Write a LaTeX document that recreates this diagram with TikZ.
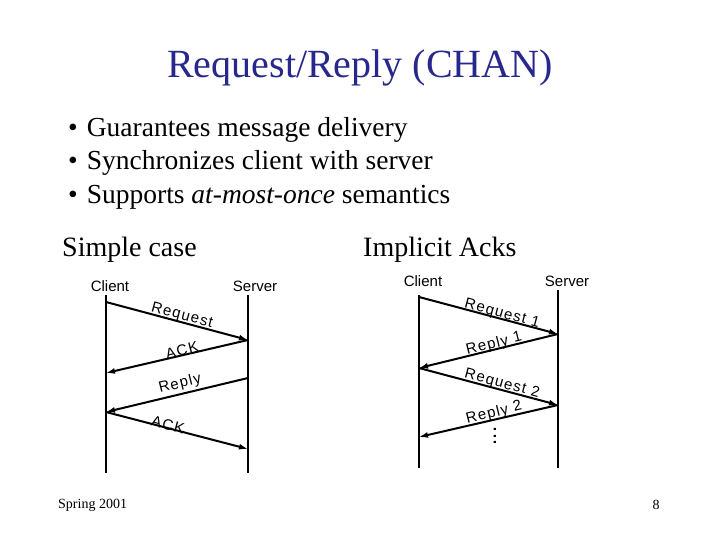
\documentclass[tikz,border=0pt]{standalone}
\usepackage{fontspec}
\setmainfont{Liberation Serif}
\newfontfamily\arial[LetterSpace=8]{Liberation Sans}
\newfontfamily\arialn{Liberation Sans}
\usetikzlibrary{arrows.meta}
\begin{document}
\begin{tikzpicture}[x=1pt,y=-1pt,
  life/.style={line width=2pt},
  msg/.style={line width=2pt,-{Latex[length=9pt,width=6pt]}},
  lbl/.style={font=\fontsize{15}{15}\arial,inner sep=1pt},
  hdr/.style={font=\fontsize{15}{15}\arialn,inner sep=0pt},
  bul/.style={font=\fontsize{27.5}{27.5}\selectfont,anchor=west,inner sep=0pt}]
\useasboundingbox (0,0) rectangle (720,540);
\node (title) at (360,68) {\fontsize{40}{40}\selectfont\color[RGB]{40,40,140}Request/Reply (CHAN)};
\node[bul] (b1) at (68,130) {•\hspace{9pt}Guarantees message delivery};
\node[bul] (b2) at (68,163) {•\hspace{9pt}Synchronizes client with server};
\node[bul] (b3) at (68,197) {•\hspace{9pt}Supports \textit{at-most-once} semantics};
\node[bul,font=\fontsize{28}{28}\selectfont] (s1) at (62,250) {Simple case};
\node[bul,font=\fontsize{28}{28}\selectfont] (s2) at (363,250) {Implicit Acks};
\node[hdr] (c1) at (110,286) {Client};
\node[hdr] (sv1) at (255,286) {Server};
\node[hdr] (c2) at (423,281) {Client};
\node[hdr] (sv2) at (567,281) {Server};
% left
\coordinate (lct) at (106,295); \coordinate (lcb) at (106,473);
\coordinate (lst) at (248,295); \coordinate (lsb) at (248,473);
\draw[life] (lct) -- (lcb); \draw[life] (lst) -- (lsb);
\coordinate (a1) at (106,302); \coordinate (a2) at (248,340);
\coordinate (a3) at (106,373); \coordinate (a4) at (248,378);
\coordinate (a5) at (106,412); \coordinate (a6) at (248,449);
\draw[msg] (a1) -- (a2); \draw[msg] (a2) -- (a3);
\draw[msg] (a4) -- (a5); \draw[msg] (a5) -- (a6);
\node[lbl,rotate=-15] (l1) at (182,316) {Request};
\node[lbl,rotate=14] (l2) at (182,350) {ACK};
\node[lbl,rotate=14] (l3) at (180,384) {Reply};
\node[lbl,rotate=-15] (l4) at (168,425) {ACK};
% right
\coordinate (rct) at (419,295); \coordinate (rcb) at (419,468);
\coordinate (rst) at (558,290); \coordinate (rsb) at (558,468);
\draw[life] (rct) -- (rcb); \draw[life] (rst) -- (rsb);
\coordinate (r1) at (419,297); \coordinate (r2) at (558,334);
\coordinate (r3) at (419,368); \coordinate (r4) at (558,405);
\coordinate (r5) at (419,437);
\draw[msg] (r1) -- (r2); \draw[msg] (r2) -- (r3);
\draw[msg] (r3) -- (r4); \draw[msg] (r4) -- (r5);
\node[lbl,rotate=-15] (m1) at (502,314) {Request 1};
\node[lbl,rotate=14] (m2) at (494,344) {Reply 1};
\node[lbl,rotate=-15] (m3) at (502,384) {Request 2};
\node[lbl,rotate=14] (m4) at (494,413) {Reply 2};
\node[font=\fontsize{22}{22}\arialn,rotate=90,inner sep=0pt] (dots) at (495,436) {...};
\node[anchor=west,font=\fontsize{14}{14}\selectfont,inner sep=0pt] (f1) at (58,505) {Spring 2001};
\node[font=\fontsize{14}{14}\selectfont,inner sep=0pt] (f2) at (656,505) {8};
\end{tikzpicture}
\end{document}
